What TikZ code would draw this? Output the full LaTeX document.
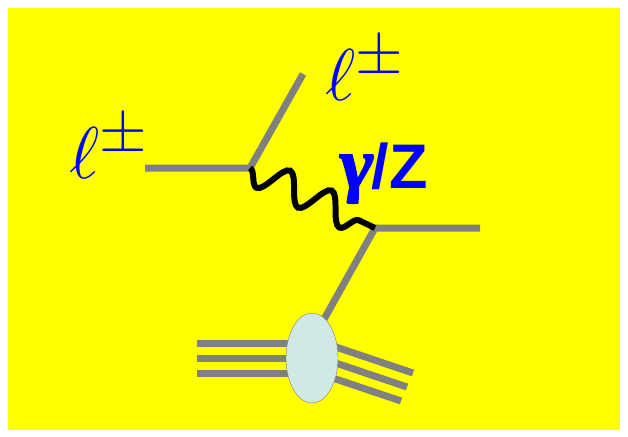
\documentclass[tikz,border=0pt]{standalone}
\usepackage{fontspec}
\newfontfamily\labelfont{Liberation Sans}
\newfontfamily\gammafont[FakeBold=2.5, FakeSlant=0.1]{Liberation Serif}
\usetikzlibrary{decorations.pathmorphing}
\usetikzlibrary{shapes.geometric}
\definecolor{bgyellow}{rgb}{1, 1, 0}
\definecolor{lgray}{rgb}{0.5, 0.5, 0.5}
\definecolor{blobcyan}{RGB}{208, 232, 230}

\begin{document}
\begin{tikzpicture}[x=1pt, y=-1pt,
    fermion/.style={lgray, line width=7pt},
    boson/.style={black, line width=6pt, decorate,
      decoration={snake, mirror, segment length=46pt, amplitude=15pt}},
    lbl/.style={blue, inner sep=0pt, font=\Huge, scale=2.95}]
    \fill [white] (0, 0) rectangle (628, 436);
    \fill [bgyellow] (8, 8) rectangle (620, 430);

    % vertices and free ends
    \coordinate (v1) at (250, 168);
    \coordinate (v2) at (375, 228);
    \coordinate (in) at (145, 168);
    \coordinate (out) at (303, 74);
    \coordinate (q) at (480, 228);
    \coordinate (hadron) at (312, 358);
    \coordinate (hin) at (318, 330);

    \draw [fermion] (in) -- (v1) -- (out);
    \draw [fermion] (q) -- (v2) -- (hin);

    % beam remnants
    \foreach \y [count=\i] in {343, 358, 373} {
      \coordinate (r\i) at (197, \y);
      \draw [fermion] (r\i) -- (hadron |- r\i);
    }
    \foreach \dx/\dy [count=\i] in {0/-14, -6/0, -12/14} {
      \coordinate (s\i) at (413+\dx, 387+\dy);
      \draw [fermion] (312+\dx, 353+\dy) -- (s\i);
    }
    \node [ellipse, draw=lgray, fill=blobcyan, thin, minimum width=52,
      minimum height=90, inner sep=0pt] (blob) at (hadron) {};

    \draw [boson] (v1) -- (v2);

    \node [lbl, anchor=base west] (lin) at (69, 178) {$\ell^\pm$};
    \node [lbl, anchor=base west] (lout) at (325, 100) {$\ell^\pm$};
    \node [blue, inner sep=0pt, anchor=base west,
      font=\labelfont\bfseries\fontsize{63}{68}\selectfont] (gz) at (337, 188)
      {{\gammafont\fontsize{72}{76}\selectfont γ}\kern1pt/Z};
  \end{tikzpicture}
\end{document}
